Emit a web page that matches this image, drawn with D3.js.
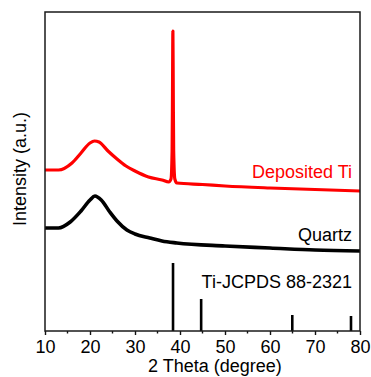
<!DOCTYPE html>
<html>
<head>
<meta charset="utf-8">
<script src="https://cdn.jsdelivr.net/npm/d3@7"></script>
<style>
  body { margin: 0; background: #fff; }
  text { font-family: Arial, "Liberation Sans", sans-serif; }
</style>
</head>
<body>
<div id="chart"></div>
<script>
// 2 theta (degree) / intensity (a.u.)
var depositedX = [10, 13, 16, 18, 20, 21, 22, 24, 26, 28, 30, 33, 36, 37.5, 38.0, 38.25, 38.34, 38.42, 38.5, 38.59, 38.85, 39.3, 45, 50, 60, 70, 80];
var depositedY = [161, 161, 168, 178, 188, 190, 189, 180, 172, 165, 160, 154, 151, 149, 152, 180, 240, 300, 240, 180, 152, 148, 146.5, 145, 143, 141.5, 140];
var quartzX = [10, 13, 15.6, 18, 20, 21.1, 22.5, 24.4, 26, 28.2, 30, 33.3, 36, 39.3, 50, 60, 70, 80];
var quartzY = [103, 103, 109, 120, 131, 135, 131, 119, 110, 101, 97, 93, 90, 88, 85, 83, 81, 80];
var refPeaks = [38.45, 44.7, 64.95, 78.0];
var refHeights = [68, 32, 16, 15];
var xTicks = [10, 20, 30, 40, 50, 60, 70, 80];
var xMinor = [15, 25, 35, 45, 55, 65, 75];

var width = 371, height = 377;
var margin = { left: 45, top: 12, right: 11, bottom: 46 };

var svg = d3.select('#chart').append('svg')
    .attr('width', width)
    .attr('height', height);

var x = d3.scaleLinear().domain([10, 80]).range([margin.left, width - margin.right]);
var y = d3.scaleLinear().domain([0, 319]).range([height - margin.bottom, margin.top]);

var line = d3.line()
    .x(d => x(d[0]))
    .y(d => y(d[1]))
    .curve(d3.curveMonotoneX);

// reference sticks
svg.append('g').selectAll('line')
    .data(refPeaks)
    .enter().append('line')
    .attr('x1', d => x(d)).attr('x2', d => x(d))
    .attr('y1', y(0))
    .attr('y2', (d, i) => y(refHeights[i]))
    .attr('stroke', '#000')
    .attr('stroke-width', 2.6);

svg.append('path')
    .datum(d3.zip(quartzX, quartzY))
    .attr('d', line)
    .attr('fill', 'none')
    .attr('stroke', '#000')
    .attr('stroke-width', 3.6);

svg.append('path')
    .datum(d3.zip(depositedX, depositedY))
    .attr('d', line)
    .attr('fill', 'none')
    .attr('stroke', '#ff0000')
    .attr('stroke-width', 3.2)
    .attr('stroke-linejoin', 'round');

// bottom axis
var xAxis = svg.append('g')
    .attr('transform', `translate(0,${y(0)})`)
    .call(d3.axisBottom(x).tickValues(xTicks).tickSize(4).tickPadding(5).tickFormat(d3.format('d')));
xAxis.select('.domain').remove();
xAxis.selectAll('.tick line').attr('stroke', '#111').attr('stroke-width', 1.4);
xAxis.selectAll('.tick text')
    .attr('fill', '#000')
    .style('font-size', '18px')
    .style('font-family', 'Arial, "Liberation Sans", sans-serif');

svg.append('g').selectAll('line')
    .data(xMinor)
    .enter().append('line')
    .attr('x1', d => x(d)).attr('x2', d => x(d))
    .attr('y1', y(0)).attr('y2', y(0) + 2.5)
    .attr('stroke', '#111')
    .attr('stroke-width', 1.4);

// frame
svg.append('rect')
    .attr('x', margin.left)
    .attr('y', margin.top)
    .attr('width', width - margin.left - margin.right)
    .attr('height', height - margin.top - margin.bottom)
    .attr('fill', 'none')
    .attr('stroke', '#1a1a1a')
    .attr('stroke-width', 1.5);

// labels
svg.append('text')
    .attr('x', 215).attr('y', 372)
    .attr('text-anchor', 'middle')
    .style('font-size', '18px')
    .text('2 Theta (degree)');

svg.append('text')
    .attr('transform', 'translate(26,169) rotate(-90)')
    .attr('text-anchor', 'middle')
    .style('font-size', '18px')
    .text('Intensity (a.u.)');

var labels = [
    { t: 'Deposited Ti', y: 178, c: '#ff0000' },
    { t: 'Quartz', y: 241, c: '#000' },
    { t: 'Ti-JCPDS 88-2321', y: 288, c: '#000' }
];
svg.append('g').selectAll('text')
    .data(labels)
    .enter().append('text')
    .attr('x', 352)
    .attr('y', d => d.y)
    .attr('text-anchor', 'end')
    .attr('fill', d => d.c)
    .style('font-size', '18px')
    .text(d => d.t);
</script>
</body>
</html>
